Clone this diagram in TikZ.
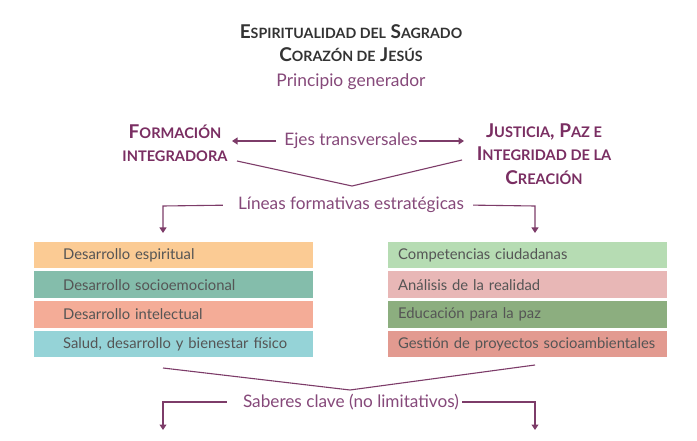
\documentclass[tikz,border=0pt]{standalone}
\usepackage{fontspec}
\setmainfont{Lato}
\usetikzlibrary{arrows.meta}
\definecolor{plum}{HTML}{7A2E62}
\definecolor{lineplum}{HTML}{7D3C69}
\definecolor{midplum}{HTML}{86497A}
\definecolor{titlegray}{HTML}{333333}
\definecolor{boxtext}{HTML}{555555}
\definecolor{cA}{HTML}{FBCB94}
\definecolor{cB}{HTML}{84BDAB}
\definecolor{cC}{HTML}{F4AC97}
\definecolor{cD}{HTML}{95D3D7}
\definecolor{cE}{HTML}{B6DCB3}
\definecolor{cF}{HTML}{E8B7B6}
\definecolor{cG}{HTML}{8CAE7F}
\definecolor{cH}{HTML}{E29A90}
\newcommand\tsm[1]{{\fontsize{14.2}{16}\selectfont #1}}
\newcommand\hsm[1]{{\fontsize{14.6}{16}\selectfont #1}}
\tikzset{
  titletext/.style={font=\fontsize{19}{22}\selectfont\bfseries, text=titlegray, inner sep=0pt},
  subtitle/.style={font=\fontsize{17.4}{20}\selectfont, text=midplum, inner sep=0pt},
  heading/.style={font=\fontsize{19}{23.5}\selectfont\bfseries, text=plum, align=center, inner sep=0pt},
  midtext/.style={font=\fontsize{17.2}{20}\selectfont, text=midplum, inner sep=0pt},
  conn/.style={draw=lineplum, line width=1.1pt},
  arr/.style={conn, -{Triangle[width=7pt,length=5.5pt]}},
  boxnode/.style={rectangle, inner xsep=0pt, inner ysep=0pt, minimum height=26.5pt,
     text width=279pt, align=left, anchor=west, font=\fontsize{14.8}{17}\selectfont, text=boxtext},
}
\begin{document}
\begin{tikzpicture}[x=1pt,y=-1pt]
\useasboundingbox[fill=white] (0,0) rectangle (697,441);

% title
\node[titletext] (t1) at (351,32) {E\tsm{SPIRITUALIDAD DEL} S\tsm{AGRADO}};
\node[titletext] (t2) at (351,55) {C\tsm{ORAZÓN DE} J\tsm{ESÚS}};
\node[subtitle] (pg) at (351,82) {Principio generador};

% headings
\node[heading] (fi) at (175,143) {F\hsm{ORMACIÓN}\\\hsm{INTEGRADORA}};
\node[heading] (jp) at (544,154) {J\hsm{USTICIA}, P\hsm{AZ E}\\I\hsm{NTEGRIDAD DE LA}\\C\hsm{REACIÓN}};

\node[midtext] (ejes) at (351,141) {Ejes transversales};
\coordinate (ejL) at (232,141);
\coordinate (ejR) at (464,141);
\draw[arr, shorten <=8pt] (ejes.west) -- (ejL);
\draw[arr, shorten <=1pt] (ejes.east) -- (ejR);

% first V
\coordinate (v1a) at (237,161);
\coordinate (v1b) at (352,186);
\coordinate (v1c) at (462,160);
\draw[conn] (v1a) -- (v1b) -- (v1c);

\node[midtext] (lin) at (351,205) {Líneas formativas estratégicas};
\coordinate (l1) at (163,206);
\coordinate (l2) at (535,206);
\coordinate (l1d) at (163,233);
\coordinate (l2d) at (535,233);
\draw[arr, shorten <=15pt] (lin.west) -- (l1) -- (l1d);
\draw[arr, shorten <=9pt] (lin.east) -- (l2) -- (l2d);

% left boxes
\node[boxnode, fill=cA] (b1) at (34,255) {\hspace*{29pt}Desarrollo espiritual};
\node[boxnode, fill=cB] (b2) at (34,284.7) {\hspace*{29pt}Desarrollo socioemocional};
\node[boxnode, fill=cC] (b3) at (34,314.3) {\hspace*{29pt}Desarrollo intelectual};
\node[boxnode, fill=cD] (b4) at (34,344) {\hspace*{29pt}Salud, desarrollo y bienestar físico};

% right boxes
\node[boxnode, fill=cE] (r1) at (388,255) {\hspace*{10pt}Competencias ciudadanas};
\node[boxnode, fill=cF] (r2) at (388,284.7) {\hspace*{10pt}Análisis de la realidad};
\node[boxnode, fill=cG] (r3) at (388,314.3) {\hspace*{10pt}Educación para la paz};
\node[boxnode, fill=cH] (r4) at (388,344) {\hspace*{10pt}Gestión de proyectos socioambientales};

% second V
\coordinate (v2a) at (163,368);
\coordinate (v2b) at (350,390);
\coordinate (v2c) at (535,365);
\draw[conn] (v2a) -- (v2b) -- (v2c);

\node[midtext] (sab) at (351,402) {Saberes clave (no limitativos)};
\coordinate (s1) at (163,402);
\coordinate (s2) at (535,402);
\coordinate (s1d) at (163,430);
\coordinate (s2d) at (535,430);
\draw[arr, shorten <=16pt] (sab.west) -- (s1) -- (s1d);
\draw[arr, shorten <=3pt] (sab.east) -- (s2) -- (s2d);
\end{tikzpicture}
\end{document}
